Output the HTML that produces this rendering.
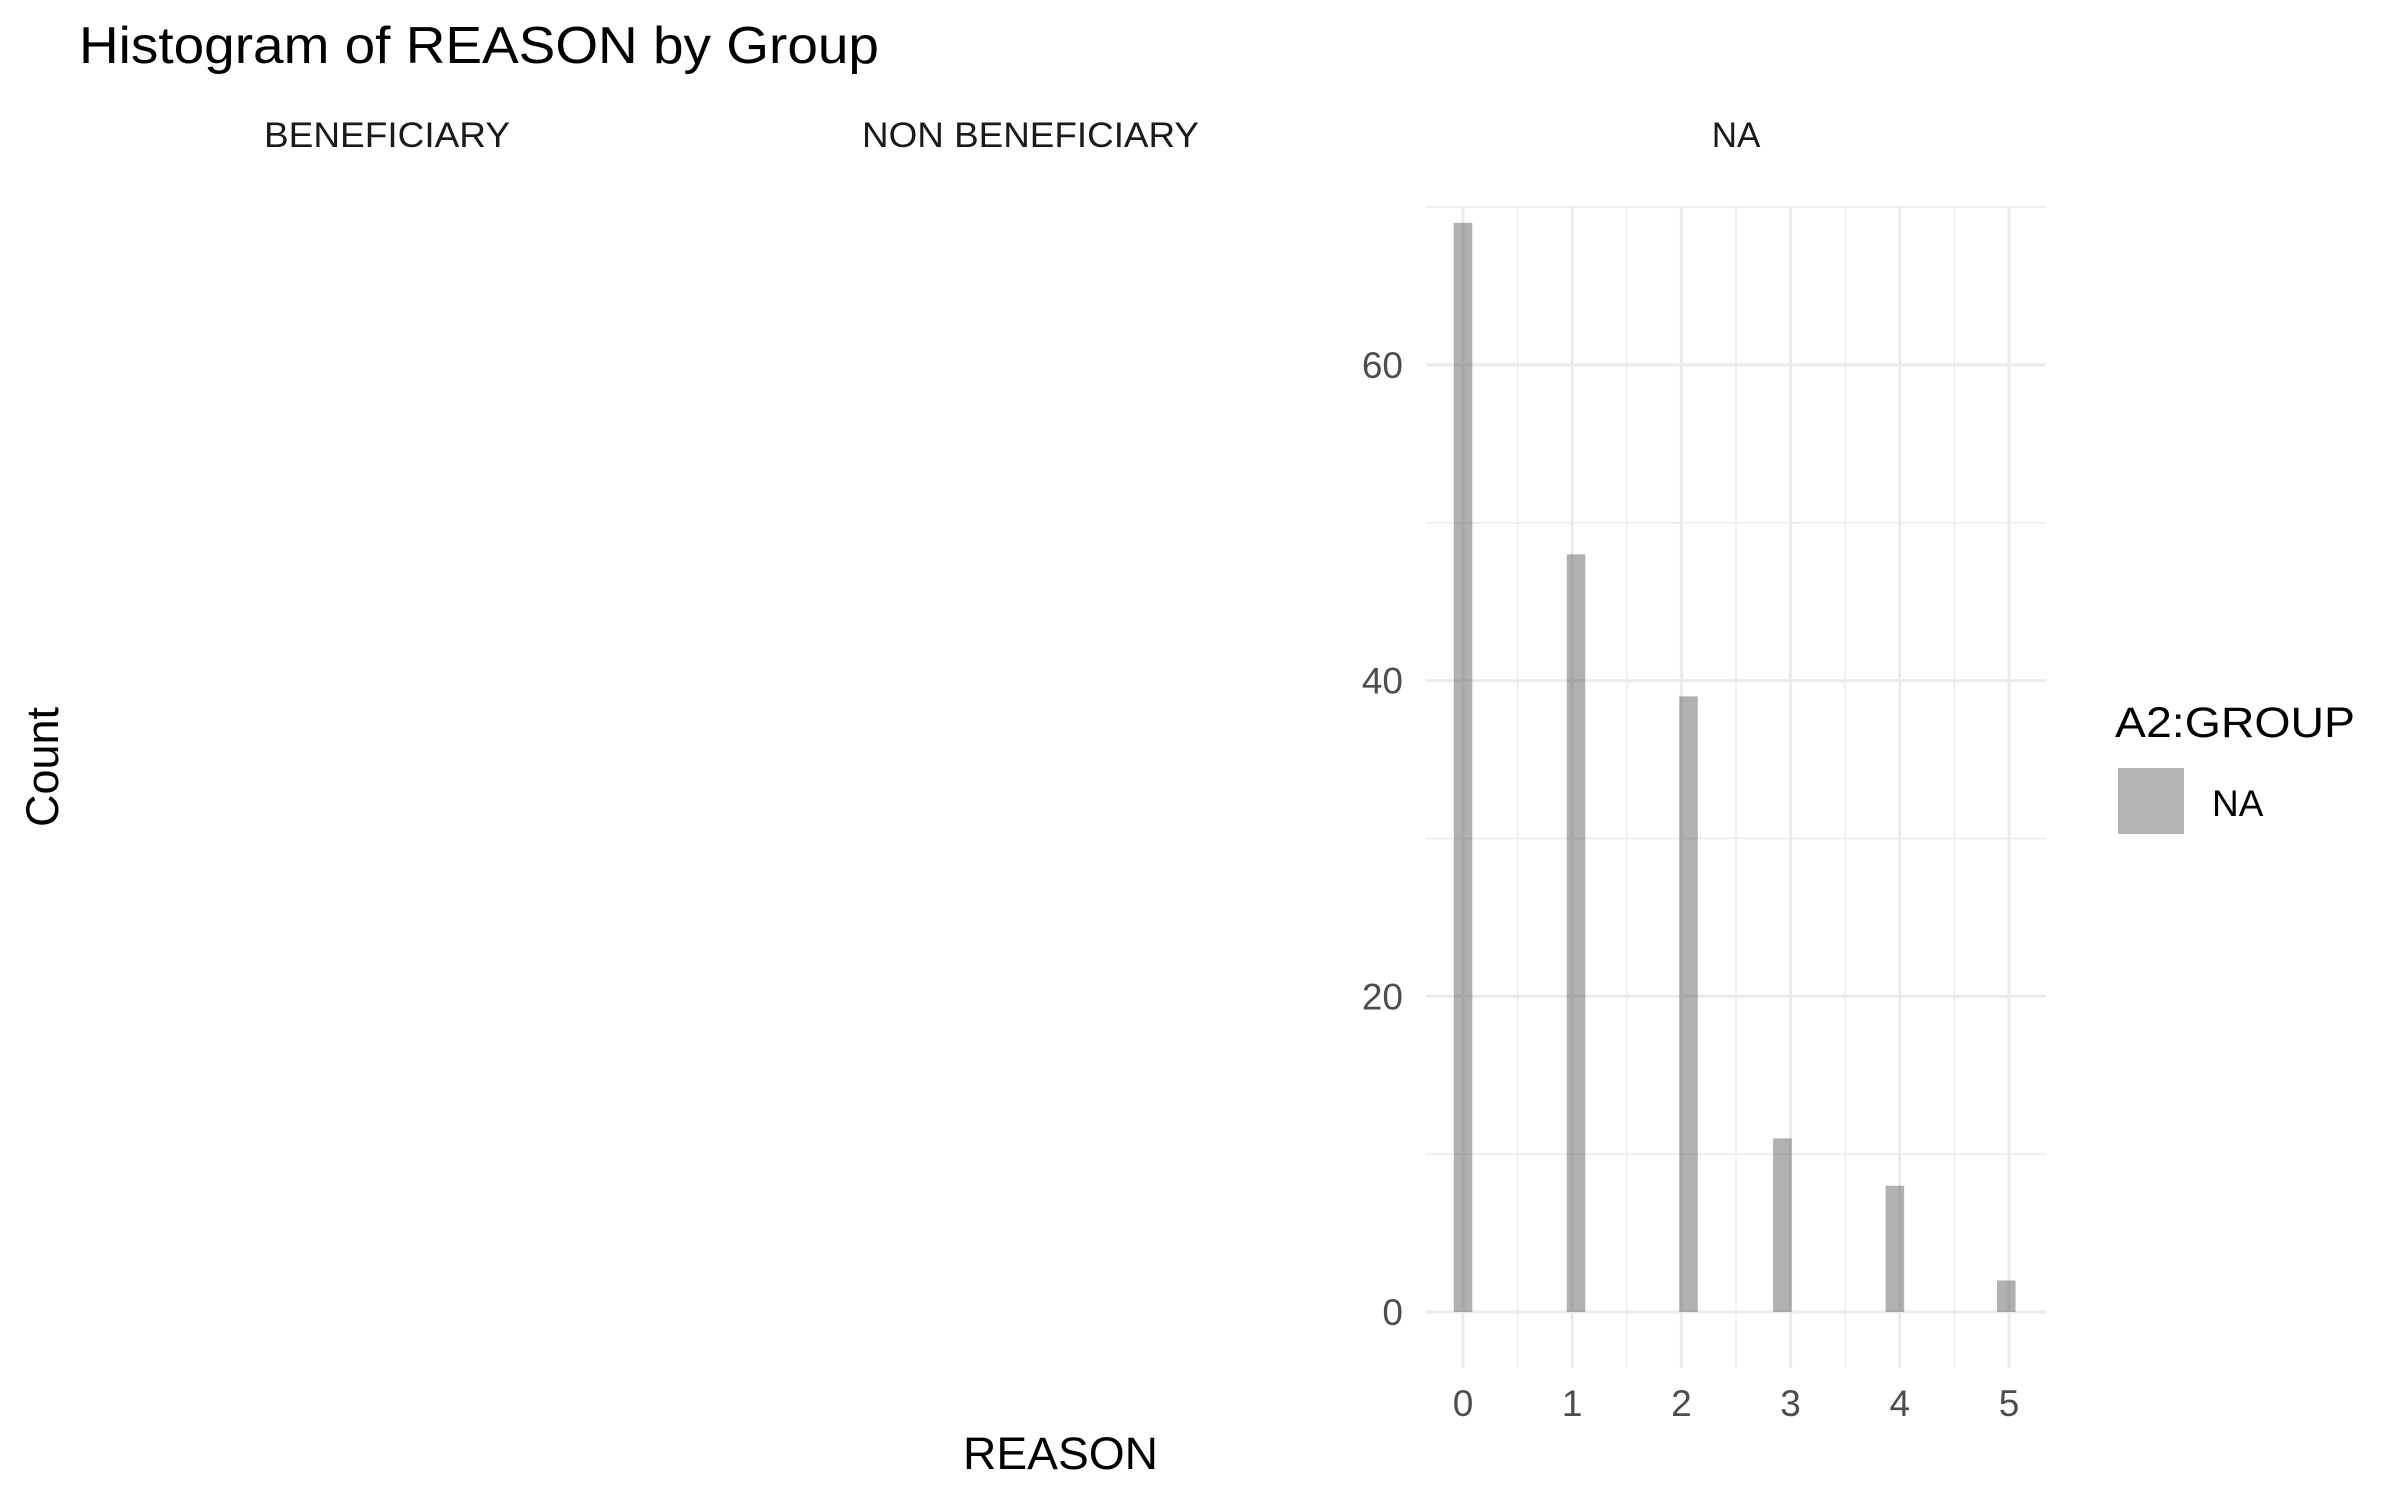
<!DOCTYPE html>
<html><head><meta charset="utf-8"><style>
body{margin:0;background:#fff;}
svg{display:block;font-family:"Liberation Sans",Arial,sans-serif;}
</style></head><body>
<svg id="chart" width="2400" height="1500" viewBox="0 0 2400 1500" xmlns="http://www.w3.org/2000/svg">
<text x="79" y="63" font-size="52" fill="#000" textLength="800" lengthAdjust="spacingAndGlyphs">Histogram of REASON by Group</text>
<text x="264" y="147" font-size="35" fill="#1a1a1a" textLength="246" lengthAdjust="spacingAndGlyphs">BENEFICIARY</text>
<text x="862" y="147" font-size="35" fill="#1a1a1a" textLength="337" lengthAdjust="spacingAndGlyphs">NON BENEFICIARY</text>
<text x="1736" y="147" font-size="35" fill="#1a1a1a" text-anchor="middle">NA</text>
<g id="grid"></g>
<g id="bars"></g>
<g id="ticks"></g>
<text x="963" y="1469" font-size="45" fill="#000" textLength="195" lengthAdjust="spacingAndGlyphs">REASON</text>
<text transform="translate(58,767) rotate(-90)" font-size="45" fill="#000" text-anchor="middle">Count</text>
<text x="2115" y="737" font-size="43" fill="#000" textLength="240" lengthAdjust="spacingAndGlyphs">A2:GROUP</text>
<rect x="2118" y="768" width="66" height="66" fill="#b3b3b3"/>
<text x="2212" y="816" font-size="37" fill="#000">NA</text>
</svg>
<script>
const binStarts = [-0.085, 0.95, 1.98, 2.84, 3.87, 4.89];
const counts = [69, 48, 39, 11, 8, 2];
const binWidth = 0.17;
const xTicks = [0, 1, 2, 3, 4, 5];
const xMinor = [0.5, 1.5, 2.5, 3.5, 4.5];
const yTicks = [0, 20, 40, 60];
const yMinor = [10, 30, 50, 70];

const NS = 'http://www.w3.org/2000/svg';
const px0 = 1426, px1 = 2046, py0 = 206, py1 = 1368;
const sx = v => 1463 + v * 109.2;
const sy = v => 1312 - v * 15.785;
function mk(tag, attrs, parent){const e=document.createElementNS(NS,tag);for(const k in attrs)e.setAttribute(k,attrs[k]);parent.appendChild(e);return e;}
const grid=document.getElementById('grid'), bars=document.getElementById('bars'), ticks=document.getElementById('ticks');
yMinor.forEach(v=>{const l=mk('line',{x1:px0,x2:px1,y1:sy(v),y2:sy(v),stroke:'#ebebeb','stroke-width':1.5},grid);

});
xMinor.forEach(v=>{const l=mk('line',{x1:sx(v),x2:sx(v),y1:py0,y2:py1,stroke:'#ebebeb','stroke-width':1.5},grid);

});
yTicks.forEach(v=>{const l=mk('line',{x1:px0,x2:px1,y1:sy(v),y2:sy(v),stroke:'#ebebeb','stroke-width':3},grid);


const t=mk('text',{x:1403,y:sy(v)+13,'font-size':37,fill:'#4d4d4d','text-anchor':'end'},ticks);t.textContent=v;

});
xTicks.forEach(v=>{const l=mk('line',{x1:sx(v),x2:sx(v),y1:py0,y2:py1,stroke:'#ebebeb','stroke-width':3},grid);


const t=mk('text',{x:sx(v),y:1416,'font-size':37,fill:'#4d4d4d','text-anchor':'middle'},ticks);t.textContent=v;

});
binStarts.forEach((b,i)=>{const x=sx(b),w=sx(b+binWidth)-x;const r=mk('rect',{x:x,y:sy(counts[i]),width:w,height:sy(0)-sy(counts[i]),fill:'#595959','fill-opacity':0.47},bars);

});
</script>
</body></html>
